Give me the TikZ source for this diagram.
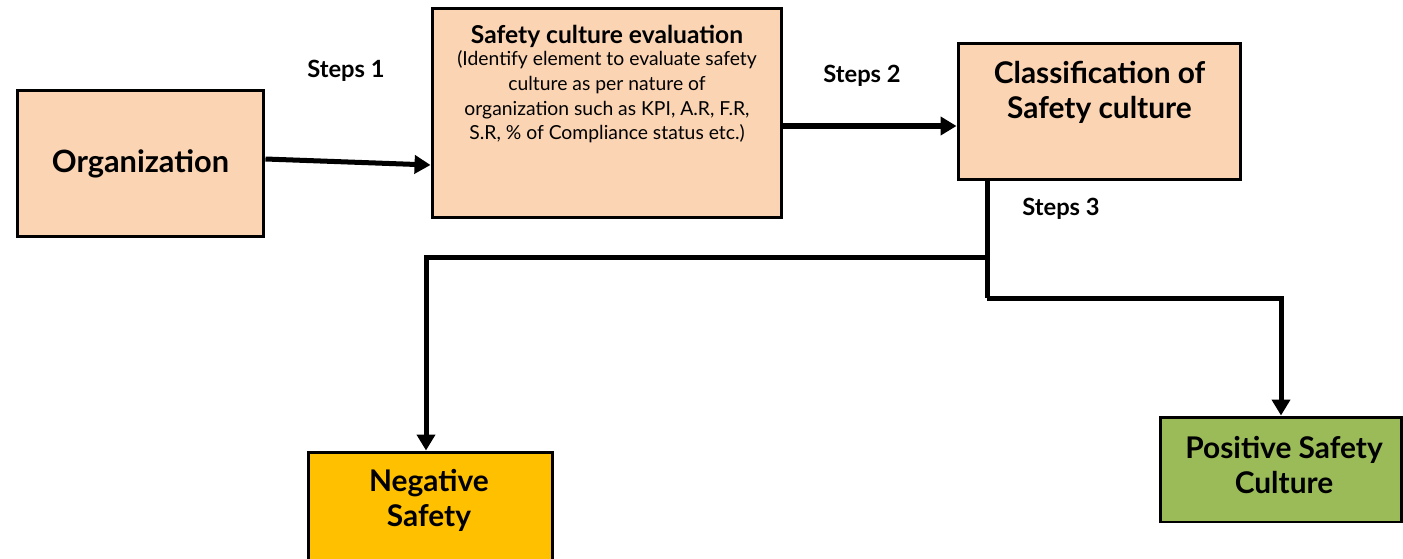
\documentclass[tikz,border=0pt]{standalone}
\usepackage{fontspec}
\setmainfont{Lato}
\usetikzlibrary{arrows.meta,positioning}
\definecolor{peach}{HTML}{FBD4B4}
\definecolor{gold}{HTML}{FFC000}
\definecolor{leaf}{HTML}{9BBB59}
\begin{document}
\begin{tikzpicture}[x=0.02cm,y=-0.02cm]
                \useasboundingbox (0,0) rectangle (1403,558);
                \begin{scope}[every node/.style={rectangle,draw=black,line width=1.7pt,inner sep=0pt},
                    box/.style={fill=peach, font=\bfseries\fontsize{17.5}{20}\selectfont}]
                    \node[box, minimum width=4.94cm, minimum height=2.94cm] (org) at (140.5,163.5) {Organization};
                    \node[box, minimum width=7cm, minimum height=4.2cm] (eval) at (607,113) {};
                    \node[box, minimum width=5.66cm, minimum height=2.74cm] (class) at (1099.5,111.5) {};
                    \node[fill=gold, minimum width=4.9cm, minimum height=2.94cm] (neg) at (430.5,525.5) {};
                    \node[fill=leaf, minimum width=4.82cm, minimum height=2.1cm] (pos) at (1281,469.5) {};
                \end{scope}
                \begin{scope}[every node/.style={align=center, inner sep=0pt},
                    big/.style={font=\bfseries\fontsize{17}{20}\selectfont},
                    steps/.style={font=\bfseries\fontsize{13.5}{16}\selectfont}]
                    \node[font=\bfseries\fontsize{14}{17}\selectfont] (evaltitle) at (607,36) {Safety culture evaluation};
                    \node[font=\fontsize{11}{14}\selectfont] (evalbody) at (607,97) {(Identify element to evaluate safety\\
                        culture as per nature of\\
                        organization such as KPI, A.R, F.R,\\
                        S.R, \% of Compliance status etc.)};
                    \node[big] (classtext) at (1099.5,92) {Classification of\\Safety culture};
                    \node[big] (negtext) at (429,500) {Negative\\Safety};
                    \node[big] (postext) at (1284,465) {Positive Safety\\Culture};
                    \node[steps] (s1) at (346,71) {Steps 1};
                    \node[steps] (s2) at (862,76) {Steps 2};
                    \node[steps] (s3) at (1061,209) {Steps 3};
                \end{scope}
                \coordinate (split) at (987,257);
                \coordinate (turn) at (987,298);
                \begin{scope}[line width=2.85pt,
                    >={Triangle[length=0.32cm,width=0.36cm]}]
                    \draw[->] ([yshift=0.09cm]org.east) -- ([yshift=-0.03cm]org.east -| eval.west);
                    \draw[->] ([yshift=-0.26cm]eval.east) -- ([yshift=-0.26cm]eval.east -| class.west);
                    \draw (split |- class.south) -- (turn);
                    \draw[->] (turn) -| (pos.north);
                    \draw[->] (split) -| ([xshift=-0.09cm]neg.north);
                \end{scope}
            \end{tikzpicture}
\end{document}
